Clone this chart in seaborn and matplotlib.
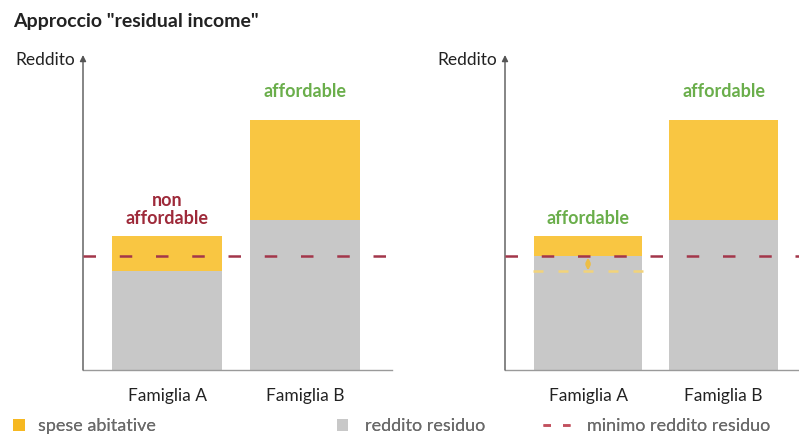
import matplotlib
matplotlib.use("Agg")
import matplotlib.pyplot as plt
import seaborn as sns
import pandas as pd
from matplotlib.patches import Patch
from matplotlib.lines import Line2D

sns.set_theme(style="white")
plt.rcParams['font.family'] = ['Lato', 'DejaVu Sans']

families = ["Famiglia A", "Famiglia B"]
# left panel
left_total = [134, 250]
left_residuo = [99, 150]
# right panel
right_total = [134, 250]
right_residuo = [114, 150]
minimo = 114
old_residuo_A = 99
left_labels = ["non\naffordable", "affordable"]
left_label_colors = ["#9E2A3A", "#6AAE4B"]
right_labels = ["affordable", "affordable"]
right_label_colors = ["#6AAE4B", "#6AAE4B"]
legend_labels = ["spese abitative", "reddito residuo", "minimo reddito residuo"]

YELLOW = "#F9C642"
GRAY = "#C8C8C8"
RED = "#A3364A"

fig = plt.figure(figsize=(7.99, 4.37), dpi=100)
W, H = 799, 437
TOP = 55

def make_ax(x0, x1):
    return fig.add_axes([x0 / W, (H - 370) / H, (x1 - x0) / W, (370 - TOP) / H])

axL = make_ax(83, 392)
axR = make_ax(505, 799)

label_gap = [12, 23]

def draw(ax, total, residuo, labels, colors, xlim):
    df = pd.DataFrame({"fam": families, "total": total, "res": residuo})
    sns.barplot(data=df, x="fam", y="total", color=YELLOW, width=0.8,
                saturation=1, ax=ax, edgecolor="none")
    sns.barplot(data=df, x="fam", y="res", color=GRAY, width=0.8,
                saturation=1, ax=ax, edgecolor="none")
    ax.set_xlim(*xlim)
    ax.set_ylim(0, 370 - TOP)
    ax.set_xlabel("")
    ax.set_ylabel("")
    ax.set_yticks([])
    ax.tick_params(axis="x", length=0, pad=13, labelsize=12.5, colors="#222222")
    for s in ["top", "right", "left"]:
        ax.spines[s].set_visible(False)
    ax.spines["bottom"].set_color("#9a9a9a")
    ax.spines["bottom"].set_linewidth(1.0)
    ax.annotate("", xy=(0, 1.0), xytext=(0, 0), xycoords="axes fraction",
                arrowprops=dict(arrowstyle="-|>", color="#555555", lw=1.0,
                                mutation_scale=9, shrinkA=0, shrinkB=0))
    ax.text(-0.027, (370 - 60) / (370 - TOP), "Reddito", transform=ax.transAxes,
            ha="right", va="center", fontsize=12.5, color="#222222")
    ax.axhline(minimo, color=RED, linestyle=(0, (5, 9.5)), lw=1.8, zorder=5)
    for i, (lab, c) in enumerate(zip(labels, colors)):
        ax.text(i, total[i] + label_gap[i], lab, ha="center", va="baseline",
                fontsize=13, fontweight="bold", color=c, linespacing=1.1)

draw(axL, left_total, left_residuo, left_labels, left_label_colors, (-0.609, 1.630))
draw(axR, right_total, right_residuo, right_labels, right_label_colors, (-0.613, 1.557))

# previous residual level in right panel
axR.hlines(old_residuo_A, -0.41, 0.41, colors="#F2D37A", linestyles=(0, (4, 6)),
           lw=1.8, zorder=5)
axR.annotate("", xy=(0, minimo - 1.5), xytext=(0, old_residuo_A + 0.5),
             arrowprops=dict(arrowstyle="<->", color="#EDBE45", lw=1.6,
                             mutation_scale=6, shrinkA=0, shrinkB=0), zorder=6)

fig.text(13 / W, 1 - 22 / H, 'Approccio "residual income"', fontsize=14,
         fontweight="bold", color="#222222", va="center", ha="left")

# legend
handles = [Patch(facecolor="#F6B821", edgecolor="none"),
           Patch(facecolor=GRAY, edgecolor="none"),
           Line2D([0], [0], color="#C2505E", linestyle=(0, (3, 4.8)), lw=1.8)]
xs = [13, 337, 543]
hl = [0.66, 0.62, 1.5]
tp = [0.72, 0.92, 0.95]
for h, lab, x, l, p in zip(handles, legend_labels, xs, hl, tp):
    leg = fig.legend([h], [lab], loc="center left",
                     bbox_to_anchor=(x / W, 1 - 426 / H), frameon=False,
                     prop=dict(size=13, weight="normal"),
                     handlelength=l, handleheight=0.66, handletextpad=p,
                     borderaxespad=0, borderpad=0, labelcolor="#6a6a6a")
    fig.add_artist(leg)

fig.savefig("out.png", dpi=100)
